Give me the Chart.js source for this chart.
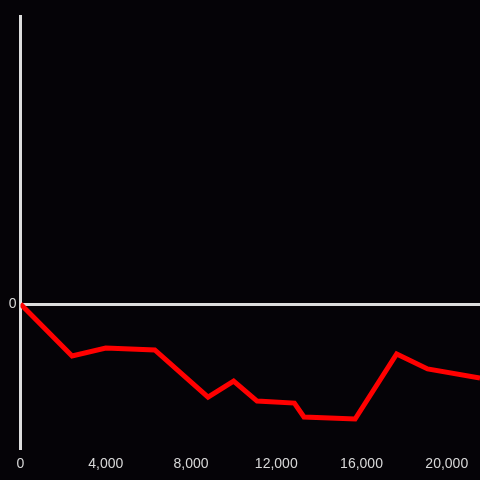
<!DOCTYPE html>
<html>
<head>
<meta charset="utf-8">
<script src="https://cdn.jsdelivr.net/npm/chart.js@4"></script>
<style>
  html, body { margin: 0; padding: 0; background: #050307; }
  #wrap { width: 480px; height: 480px; }
</style>
</head>
<body>
<div id="wrap"><canvas id="myChart" width="480" height="480"></canvas></div>
<script>
// values
var xValues = [0, 2420, 4000, 6300, 8800, 10000, 11100, 12850, 13300, 15700, 17650, 19100, 21560];
var yValues = [0, -0.361, -0.306, -0.319, -0.646, -0.535, -0.674, -0.688, -0.785, -0.799, -0.347, -0.451, -0.514];
var xTicks = [0, 4000, 8000, 12000, 16000, 20000];
var yTicks = [0];

var points = [];
for (var i = 0; i < xValues.length; i++) {
    points.push({ x: xValues[i], y: yValues[i] });
}

// paint the dark background
var bgPlugin = {
    id: 'bg',
    beforeDraw: function (chart) {
        var ctx = chart.ctx;
        ctx.save();
        ctx.fillStyle = '#050307';
        ctx.fillRect(0, 0, chart.width, chart.height);
        ctx.restore();
    }
};

var ctx = document.getElementById('myChart');
var myChart = new Chart(ctx, {
    type: 'line',
    data: {
        datasets: [{
            data: points,
            borderColor: '#ff0000',
            borderWidth: 5,
            pointRadius: 0,
            tension: 0,
            fill: false
        }]
    },
    options: {
        responsive: false,
        animation: false,
        layout: { padding: { top: 16, right: 0, bottom: 0, left: 0 } },
        plugins: { legend: { display: false }, tooltip: { enabled: false } },
        scales: {
            x: {
                type: 'linear',
                min: 0,
                max: 21560,
                afterBuildTicks: function (scale) {
                    scale.ticks = xTicks.map(function (v) { return { value: v }; });
                },
                afterFit: function (scale) { scale.height = 32; },
                grid: { display: false },
                border: { display: false },
                ticks: {
                    color: '#d8d8d8',
                    font: { size: 14 },
                    maxRotation: 0,
                    padding: 0,
                    callback: function (v) { return v.toLocaleString('en-US'); }
                }
            },
            y: {
                min: -1,
                max: 2,
                afterBuildTicks: function (scale) {
                    scale.ticks = yTicks.map(function (v) { return { value: v }; });
                },
                afterFit: function (scale) { scale.width = 20.5; },
                grid: { color: '#dddddd', lineWidth: 3, drawTicks: false },
                border: { display: true, color: '#dddddd', width: 3 },
                ticks: { color: '#d8d8d8', font: { size: 14 }, padding: 4 }
            }
        }
    },
    plugins: [bgPlugin]
});
</script>
</body>
</html>
